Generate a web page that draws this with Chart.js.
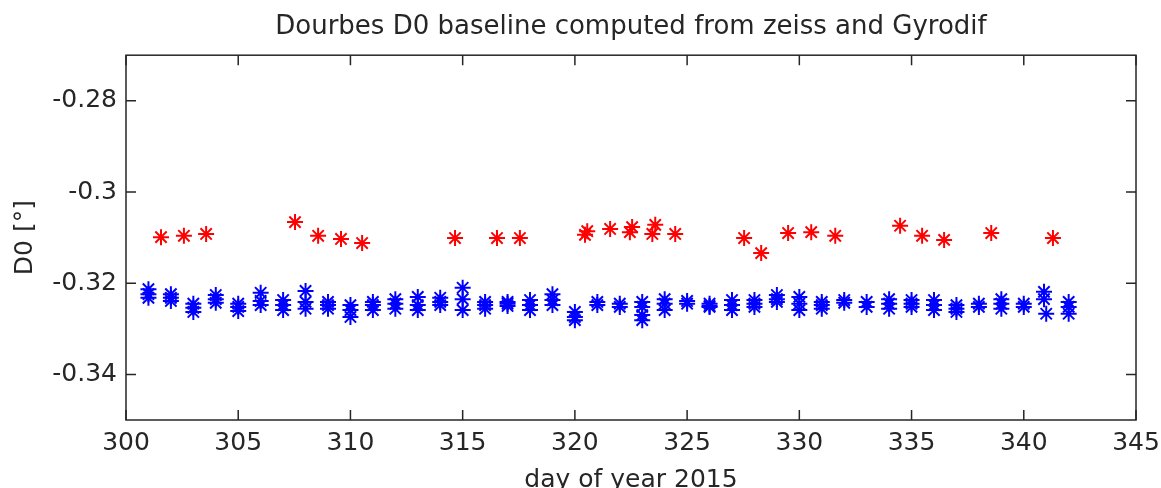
<!DOCTYPE html>
<html>
<head>
<meta charset="utf-8">
<script src="https://cdn.jsdelivr.net/npm/chart.js@4.4.1/dist/chart.umd.min.js"></script>
<style>
  body { margin: 0; background: #fff; }
</style>
</head>
<body>
<canvas id="d0Chart" width="1161" height="488"></canvas>
<script>
// Ticks of both axes
const xTicks = [300, 305, 310, 315, 320, 325, 330, 335, 340, 345];
const yTicks = [-0.34, -0.32, -0.30, -0.28];

// Red series
const redDay = [301.56, 302.58, 303.57, 307.53, 308.56, 309.58, 310.52, 314.66, 316.53, 317.55,
  320.45, 320.55, 321.57, 322.45, 322.55, 323.45, 323.58, 324.47, 327.54, 328.3,
  329.5, 330.53, 331.6, 334.49, 335.47, 336.45, 338.55, 341.3];
const redD0 = [-0.3099, -0.3096, -0.3092, -0.3066, -0.3096, -0.3103, -0.3112, -0.3101, -0.3101, -0.3101,
  -0.3094, -0.3086, -0.3081, -0.3088, -0.3077, -0.3092, -0.3072, -0.3092, -0.3101, -0.3134,
  -0.3090, -0.3088, -0.3096, -0.3074, -0.3096, -0.3105, -0.3090, -0.3101];

// Blue series: several readings per day
const blueDay = [
  301, 301, 301, 302, 302, 302, 303, 303, 303, 304, 304, 304, 305, 305, 305,
  306, 306, 306, 307, 307, 307, 308, 308, 308, 309, 309, 309, 310, 310, 310,
  311, 311, 311, 312, 312, 312, 313, 313, 313, 314, 314, 314, 315, 315, 315,
  316, 316, 316, 317, 317, 317, 318, 318, 318, 319, 319, 319, 320, 320, 320,
  321, 321, 322, 322, 323, 323, 323, 323, 324, 324, 324, 325, 325, 326, 326, 326,
  327, 327, 327, 328, 328, 328, 329, 329, 329, 330, 330, 330, 331, 331, 331,
  332, 332, 333, 333, 334, 334, 334, 335, 335, 335, 336, 336, 336, 337, 337, 337,
  338, 338, 339, 339, 339, 340, 340, 340.9, 340.9, 341, 342, 342, 342];
const blueD0 = [
  -0.3213, -0.3224, -0.3232, -0.3224, -0.3232, -0.3239, -0.3245, -0.3254, -0.3263,
  -0.3226, -0.3235, -0.3243, -0.3245, -0.3252, -0.3261,
  -0.3221, -0.3239, -0.3248, -0.3237, -0.3248, -0.3259, -0.3217, -0.3241, -0.3256,
  -0.3241, -0.3248, -0.3256, -0.3248, -0.3259, -0.3274,
  -0.3241, -0.3248, -0.3259, -0.3235, -0.3245, -0.3256, -0.3230, -0.3248, -0.3259,
  -0.3232, -0.3241, -0.3248, -0.3210, -0.3235, -0.3259,
  -0.3241, -0.3248, -0.3256, -0.3241, -0.3245, -0.3250, -0.3237, -0.3248, -0.3259,
  -0.3224, -0.3237, -0.3248, -0.3263, -0.3274, -0.3281,
  -0.3241, -0.3248, -0.3245, -0.3252, -0.3241, -0.3252, -0.3270, -0.3281,
  -0.3235, -0.3245, -0.3259, -0.3239, -0.3245, -0.3245, -0.3250, -0.3252,
  -0.3237, -0.3248, -0.3259, -0.3237, -0.3245, -0.3252, -0.3226, -0.3235, -0.3241,
  -0.3230, -0.3245, -0.3259, -0.3241, -0.3248, -0.3256,
  -0.3237, -0.3243, -0.3241, -0.3252, -0.3235, -0.3245, -0.3256, -0.3237, -0.3245, -0.3252,
  -0.3237, -0.3248, -0.3259, -0.3248, -0.3256, -0.3263,
  -0.3245, -0.3252, -0.3235, -0.3245, -0.3256, -0.3245, -0.3252, -0.3219, -0.3235, -0.3267,
  -0.3241, -0.3252, -0.3267];

const fuente = { family: 'DejaVu Sans', size: 25 };
const gris = '#262626';

// Frame and inward ticks, MATLAB style
const marcoEjes = {
  id: 'marcoEjes',
  afterDatasetsDraw(chart) {
    const { ctx, chartArea: a, scales: { x, y } } = chart;
    const largo = 10;
    ctx.save();
    ctx.strokeStyle = gris;
    ctx.lineWidth = 1.5;
    ctx.strokeRect(a.left, a.top, a.width, a.height);
    ctx.beginPath();
    xTicks.forEach(v => {
      const px = x.getPixelForValue(v);
      ctx.moveTo(px, a.bottom); ctx.lineTo(px, a.bottom - largo);
      ctx.moveTo(px, a.top); ctx.lineTo(px, a.top + largo);
    });
    yTicks.forEach(v => {
      const py = y.getPixelForValue(v);
      ctx.moveTo(a.left, py); ctx.lineTo(a.left + largo, py);
      ctx.moveTo(a.right, py); ctx.lineTo(a.right - largo, py);
    });
    ctx.stroke();
    ctx.restore();
  }
};

new Chart(document.getElementById('d0Chart'), {
  type: 'scatter',
  data: {
    datasets: [
      {
        label: 'Gyrodif',
        data: blueDay.map((d, i) => ({ x: d, y: blueD0[i] })),
        pointStyle: 'star',
        radius: 8,
        borderColor: '#0000ff',
        backgroundColor: '#0000ff',
        borderWidth: 2
      },
      {
        label: 'zeiss',
        data: redDay.map((d, i) => ({ x: d, y: redD0[i] })),
        pointStyle: 'star',
        radius: 8,
        borderColor: '#ff0000',
        backgroundColor: '#ff0000',
        borderWidth: 2
      }
    ]
  },
  options: {
    responsive: false,
    animation: false,
    devicePixelRatio: 1,
    layout: { padding: { left: 0, right: 25, top: 0, bottom: 0 } },
    plugins: {
      legend: { display: false },
      tooltip: { enabled: false },
      title: {
        display: true,
        fullSize: false,
        text: 'Dourbes D0 baseline computed from zeiss and Gyrodif',
        color: gris,
        font: { family: 'DejaVu Sans', size: 26, weight: 'normal', lineHeight: 1.2 },
        padding: { top: 12, bottom: 12 }
      }
    },
    scales: {
      x: {
        type: 'linear',
        min: 300,
        max: 345,
        afterBuildTicks: s => { s.ticks = xTicks.map(v => ({ value: v })); },
        afterFit: s => { s.height = 68; s.paddingLeft = 0; s.paddingRight = 0; },
        grid: { display: false, drawTicks: false },
        border: { display: false },
        ticks: { color: gris, font: fuente, padding: 8, maxRotation: 0 },
        title: {
          display: true,
          text: 'day of year 2015',
          color: gris,
          font: { ...fuente, lineHeight: 1.0 },
          padding: { top: 0, bottom: -5 }
        }
      },
      y: {
        type: 'linear',
        min: -0.35,
        max: -0.27,
        afterBuildTicks: s => { s.ticks = yTicks.map(v => ({ value: v })); },
        afterFit: s => { s.width = 126; s.paddingTop = 0; s.paddingBottom = 0; },
        grid: { display: false, drawTicks: false },
        border: { display: false },
        ticks: {
          color: gris,
          font: fuente,
          padding: 9,
          callback: v => String(Number(v.toFixed(2)))
        },
        title: {
          display: true,
          text: 'D0 [°]',
          color: gris,
          font: { ...fuente, lineHeight: 1.0 },
          padding: { top: 13, bottom: 0 }
        }
      }
    }
  },
  plugins: [marcoEjes]
});
</script>
</body>
</html>
